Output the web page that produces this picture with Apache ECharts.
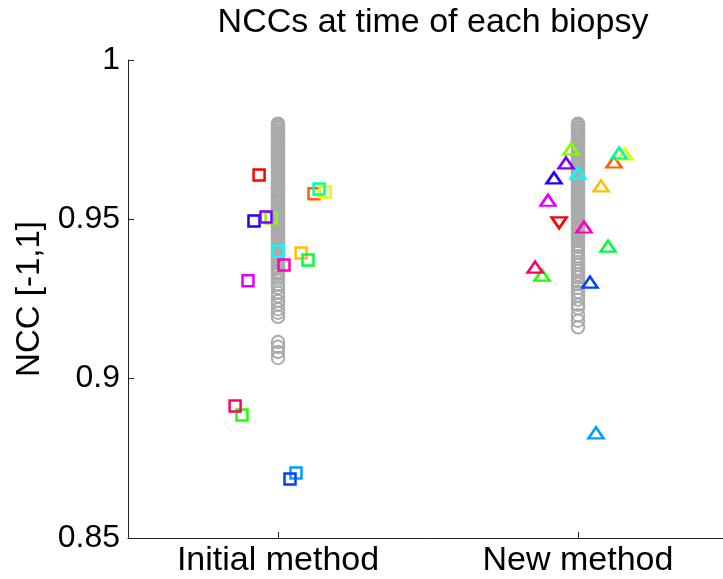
<!DOCTYPE html>
<html>
<head>
<meta charset="utf-8">
<script src="https://cdn.jsdelivr.net/npm/echarts@6/dist/echarts.min.js"></script>
<style>
html,body{margin:0;padding:0;background:#fff;}
#chart{width:723px;height:579px;}
</style>
</head>
<body>
<div id="chart"></div>
<script>
// method categories (x positions 1 and 2)
var methods = ['Initial method', 'New method'];
var yTicks = [0.85, 0.9, 0.95, 1];

// all biopsy NCCs (grey circles)
var initialAll = [0.9800,0.9796,0.9790,0.9786,0.9779,0.9775,0.9769,0.9764,0.9759,0.9752,0.9748,0.9743,0.9736,0.9732,0.9727,
  0.9720,0.9716,0.9711,0.9704,0.9700,0.9695,0.9688,0.9684,0.9677,0.9673,0.9668,0.9661,0.9657,0.9650,0.9646,0.9640,
  0.9635,0.9629,0.9624,0.9618,0.9613,0.9607,0.9600,0.9596,0.9591,0.9585,0.9578,0.9574,0.9569,0.9562,0.9558,0.9551,
  0.9547,0.9541,0.9534,0.9530,0.9525,0.9518,0.9514,0.9508,0.9503,0.9497,0.9490,0.9486,0.9481,0.9475,0.9468,0.9464,
  0.9459,0.9453,0.9446,0.9442,0.9437,0.9430,0.9426,0.9420,0.9414,0.9408,0.9400,0.9396,0.9390,0.9383,0.9376,0.9369,
  0.9362,0.9352,0.9346,0.9336,0.9329,0.9317,0.9308,0.9295,0.9285,0.9270,0.9259,0.9244,0.9233,0.9218,0.9207,0.9194,
  0.9115,0.9100,0.9084,0.9065];
var newAll = [0.9800,0.9795,0.9789,0.9785,0.9778,0.9774,0.9768,0.9763,0.9758,0.9751,0.9747,0.9742,0.9735,0.9731,0.9726,
  0.9719,0.9715,0.9710,0.9703,0.9699,0.9694,0.9687,0.9683,0.9676,0.9672,0.9667,0.9660,0.9656,0.9649,0.9645,0.9639,
  0.9634,0.9628,0.9623,0.9617,0.9612,0.9606,0.9599,0.9595,0.9590,0.9584,0.9577,0.9573,0.9568,0.9561,0.9557,0.9550,
  0.9546,0.9540,0.9533,0.9529,0.9524,0.9517,0.9513,0.9507,0.9502,0.9496,0.9489,0.9485,0.9480,0.9474,0.9467,0.9463,
  0.9458,0.9452,0.9445,0.9438,0.9432,0.9421,0.9414,0.9402,0.9395,0.9384,0.9376,0.9366,0.9357,0.9346,0.9338,0.9327,
  0.9318,0.9306,0.9297,0.9285,0.9272,0.9261,0.9248,0.9232,0.9221,0.9199,0.9182,0.9161];

// per-patient values (coloured markers)
var patientColors = ['#ff0000','#ff6000','#ffbf00','#dfff00','#80ff00','#20ff00','#00ff40','#00ff9f',
  '#00ffff','#009fff','#0040ff','#2000ff','#8000ff','#df00ff','#ff00bf','#ff0060'];
var patientJitter = [-0.063,0.12,0.077,0.157,-0.023,-0.12,0.10,0.137,0,0.06,0.04,-0.08,-0.04,-0.10,0.02,-0.143];
var initialNcc = [0.9639,0.9580,0.9394,0.9586,0.9504,0.8886,0.9372,0.9595,0.9400,0.8704,0.8685,0.9495,0.9507,0.9307,0.9357,0.8914];
var newNcc = [0.9489,0.9680,0.9605,0.9705,0.9721,0.9325,0.9416,0.9708,0.9645,0.8830,0.9303,0.9630,0.9677,0.9560,0.9476,0.9350];
var newDown = [true,false,false,false,false,false,false,false,false,false,false,false,false,false,false,false];

var greyData = [];
initialAll.forEach(function(v){ greyData.push([1, v]); });
newAll.forEach(function(v){ greyData.push([2, v]); });

var squareData = initialNcc.map(function(v, i){
  return {value:[1 + patientJitter[i], v], itemStyle:{borderColor:patientColors[i]}};
});
var triData = newNcc.map(function(v, i){
  return {value:[2 + patientJitter[i], v], symbolRotate: newDown[i] ? 180 : 0,
    itemStyle:{borderColor:patientColors[i]}};
});

var chart = echarts.init(document.getElementById('chart'));
var font = 'Liberation Sans, Arial, Helvetica, sans-serif';
var option = {
  backgroundColor:'#fff',
  animation:false,
  title:{
    text:'NCCs at time of each biopsy',
    left:428,
    textAlign:'center',
    top:1,
    textStyle:{fontFamily:font, fontSize:34, fontWeight:'normal', color:'#000'}
  },
  grid:{left:128, top:60, width:600, height:478, outerBoundsMode:'none'},
  xAxis:{
    type:'value',
    min:0.5,
    max:2.5,
    splitLine:{show:false},
    axisLine:{show:true, lineStyle:{color:'#222', width:1}},
    axisTick:{show:true, inside:true, length:6, customValues:[1,2], lineStyle:{color:'#222'}},
    axisLabel:{
      customValues:[1,2],
      margin:6,
      fontFamily:font, fontSize:34, color:'#000',
      formatter:function(v){ return methods[Math.round(v) - 1]; }
    }
  },
  yAxis:{
    type:'value',
    min:yTicks[0],
    max:yTicks[yTicks.length - 1],
    interval:0.05,
    name:'NCC [-1,1]',
    nameLocation:'middle',
    nameGap:82,
    nameTextStyle:{fontFamily:font, fontSize:33, color:'#000'},
    splitLine:{show:false},
    axisLine:{show:true, lineStyle:{color:'#222', width:1}},
    axisTick:{show:true, inside:true, length:6, lineStyle:{color:'#222'}},
    axisLabel:{margin:8, fontFamily:font, fontSize:32, color:'#000'}
  },
  series:[
    {
      type:'scatter',
      data:greyData,
      symbol:'circle',
      symbolSize:12.5,
      itemStyle:{color:'rgba(0,0,0,0)', borderColor:'#aaaaaa', borderWidth:2, opacity:1},
      emphasis:{disabled:true}
    },
    {
      type:'scatter',
      data:squareData,
      symbol:'rect',
      symbolSize:11,
      itemStyle:{color:'rgba(0,0,0,0)', borderWidth:2.5, opacity:1},
      emphasis:{disabled:true}
    },
    {
      type:'scatter',
      data:triData,
      symbol:'triangle',
      symbolSize:[15,11],
      itemStyle:{color:'rgba(0,0,0,0)', borderWidth:2.5, opacity:1},
      emphasis:{disabled:true}
    }
  ]
};
chart.setOption(option);
</script>
</body>
</html>
